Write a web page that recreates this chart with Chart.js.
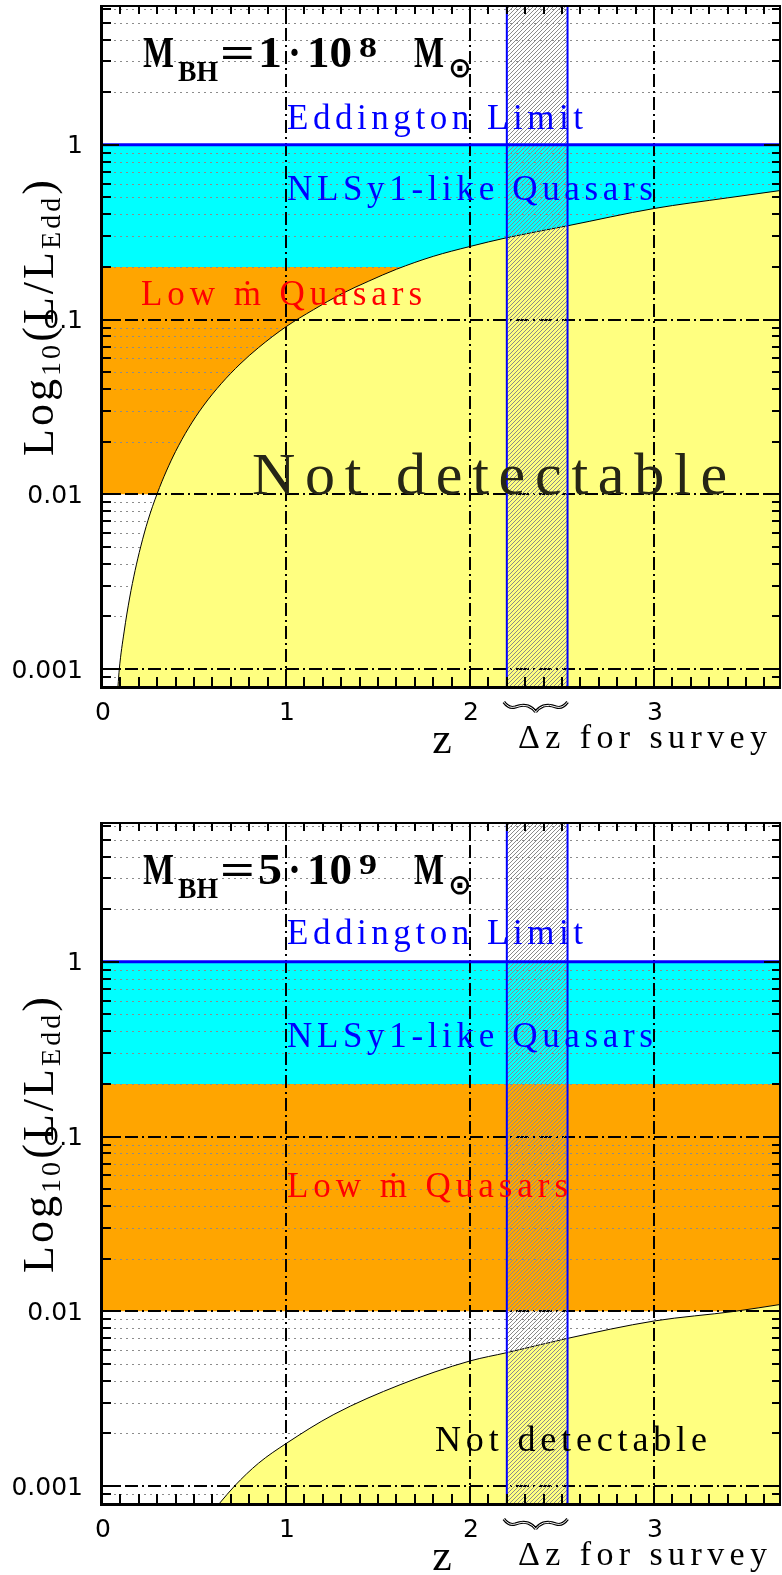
<!DOCTYPE html>
<html>
<head>
<meta charset="utf-8">
<script src="https://cdn.jsdelivr.net/npm/chart.js@4.4.1/dist/chart.umd.min.js"></script>
<style>
  html, body { margin: 0; padding: 0; background: #fff; }
  canvas { position: absolute; left: 0; }
</style>
</head>
<body>
<canvas id="panelTop" width="782" height="817" style="top:0"></canvas>
<canvas id="panelBottom" width="782" height="758" style="top:817px"></canvas>
<script>
// axis ranges shared by both panels
const zRange = [0, 3.69];
const lumRange = [0.0008, 6.31];

// class boundaries in L/L_Edd
const eddingtonLimit = 1;
const nlsy1Floor = 0.2;
const lowMdotFloor = 0.01;

// redshift window of the survey
const surveyWindow = [2.2, 2.53];

// detection limit for M_BH = 1e8 Msun
const zLimitLight = [0.087, 0.094, 0.12, 0.15, 0.18, 0.21, 0.25, 0.30, 0.35, 0.40, 0.47, 0.55, 0.65, 0.75, 0.85, 1.0, 1.15, 1.3, 1.45, 1.6, 1.8, 2.0, 2.2, 2.53, 3.0, 3.4, 3.7];
const lumLimitLight = [0.0008, 0.001, 0.00163, 0.00255, 0.00367, 0.0050, 0.0071, 0.0101, 0.0136, 0.0176, 0.0239, 0.0320, 0.0432, 0.0556, 0.069, 0.091, 0.114, 0.140, 0.166, 0.194, 0.230, 0.262, 0.294, 0.344, 0.432, 0.497, 0.55];

// detection limit for M_BH = 5e9 Msun
const zLimitHeavy = [0.64, 0.72, 0.85, 1.0, 1.26, 1.62, 2.0, 2.2, 2.53, 3.0, 3.44, 3.7];
const lumLimitHeavy = [0.0008, 0.001, 0.00135, 0.00175, 0.00257, 0.0038, 0.0052, 0.0058, 0.0070, 0.0088, 0.010, 0.011];

// tick labels
const zTicks = [0, 1, 2, 3];
const zTickLabels = ['0', '1', '2', '3'];
const lumTicks = [1, 0.1, 0.01, 0.001];
const lumTickLabels = ['1', '0.1', '0.01', '0.001'];

const SERIF = '"Liberation Serif", "DejaVu Serif", serif';
const SANS = '"DejaVu Sans", sans-serif';

function hatchPattern() {
  const c = document.createElement('canvas');
  c.width = 4; c.height = 4;
  const g = c.getContext('2d');
  g.strokeStyle = '#8a8a8a';
  g.lineWidth = 1;
  g.beginPath();
  g.moveTo(-1, 5); g.lineTo(5, -1);
  g.moveTo(-1, 1); g.lineTo(1, -1);
  g.moveTo(3, 5); g.lineTo(5, 3);
  g.stroke();
  return g.createPattern(c, 'repeat');
}

// m x 10^k values inside the y range
function minorLums(withDecades) {
  const out = [];
  for (let k = -4; k <= 0; k++) {
    for (let m = withDecades ? 1 : 2; m <= 9; m++) {
      const v = m * Math.pow(10, k);
      if (v > lumRange[0] && v < lumRange[1]) out.push({ v, major: m === 1 });
    }
  }
  return out;
}

// text spread with letter spacing so it spans x0..x1
function spaced(ctx, text, x0, x1, y, font, color) {
  ctx.save();
  ctx.font = font;
  ctx.textAlign = 'left';
  ctx.textBaseline = 'alphabetic';
  ctx.fillStyle = color;
  const w = ctx.measureText(text).width;
  const n = Array.from(text).length;
  const extra = n > 1 ? (x1 - x0 - w) / (n - 1) : 0;
  ctx.translate(x0, y);
  if (extra >= 0 && 'letterSpacing' in ctx) {
    ctx.letterSpacing = extra.toFixed(2) + 'px';
  } else {
    ctx.scale((x1 - x0) / w, 1);
  }
  ctx.fillText(text, 0, 0);
  ctx.restore();
}

// text squeezed/stretched to fill x0..x1
function fitted(ctx, text, x0, x1, y, font) {
  ctx.save();
  ctx.font = font;
  ctx.textAlign = 'left';
  ctx.textBaseline = 'alphabetic';
  ctx.fillStyle = '#000';
  const w = ctx.measureText(text).width;
  ctx.translate(x0, y);
  ctx.scale((x1 - x0) / w, 1);
  ctx.fillText(text, 0, 0);
  ctx.restore();
}

function massLabel(ctx, digit, exponent) {
  const big = 'bold 44px ' + SERIF;
  const small = 'bold 29px ' + SERIF;
  fitted(ctx, 'M', 143, 174, 67, big);
  fitted(ctx, 'BH', 178, 218, 81, small);
  fitted(ctx, '=', 220, 255, 67, big);
  fitted(ctx, digit, 258, 282, 67, big);
  fitted(ctx, '\u00b7', 288, 301, 67, big);
  fitted(ctx, '10', 307, 352, 67, big);
  fitted(ctx, exponent, 359, 377, 57, 'bold 30px ' + SERIF);
  fitted(ctx, 'M', 414, 444, 67, big);
  ctx.save();
  ctx.font = 'bold 28px ' + SANS;
  ctx.textBaseline = 'middle';
  ctx.textAlign = 'center';
  ctx.fillStyle = '#000';
  ctx.fillText('\u2299', 460, 70);
  ctx.restore();
}

function lumTitle(ctx, x, cy, len) {
  const parts = [['Log', 44, 0], ['10', 28, 7], ['(L/L', 44, 0], ['Edd', 28, 7], [')', 44, 0]];
  ctx.save();
  ctx.translate(x, cy);
  ctx.rotate(-Math.PI / 2);
  let total = 0, chars = 0;
  parts.forEach(p => {
    ctx.font = p[1] + 'px ' + SERIF;
    p.w = ctx.measureText(p[0]).width;
    total += p.w;
    chars += p[0].length;
  });
  const extra = Math.max(0, (len - total) / (chars - 1));
  let pos = -len / 2;
  ctx.fillStyle = '#000';
  ctx.textBaseline = 'alphabetic';
  ctx.textAlign = 'left';
  parts.forEach(p => {
    ctx.font = p[1] + 'px ' + SERIF;
    if ('letterSpacing' in ctx) ctx.letterSpacing = extra.toFixed(2) + 'px';
    ctx.fillText(p[0], pos, p[2]);
    pos += p.w + extra * p[0].length;
  });
  ctx.restore();
}

// wavy brace under the survey window
function brace(ctx, xa, xb, y0) {
  const w = xb - xa;
  const half = sgn => {
    const X = f => sgn > 0 ? xa + f * w : xb - f * w;
    ctx.moveTo(X(0), y0);
    ctx.quadraticCurveTo(X(0.08), y0 + 7, X(0.18), y0 + 5);
    ctx.quadraticCurveTo(X(0.29), y0 + 2, X(0.38), y0 + 4);
    ctx.quadraticCurveTo(X(0.46), y0 + 6, X(0.5), y0 + 10);
  };
  ctx.save();
  ctx.beginPath();
  half(1); half(-1);
  ctx.strokeStyle = '#000';
  ctx.lineWidth = 3;
  ctx.stroke();
  ctx.strokeStyle = '#fff';
  ctx.lineWidth = 1;
  ctx.stroke();
  ctx.restore();
}

function buildPanel(id, curveZ, curveLum, look) {
  const canvas = document.getElementById(id);
  const curve = curveZ.map((z, i) => ({ x: z, y: curveLum[i] }));
  const across = y => [{ x: zRange[0], y }, { x: zRange[1], y }];
  const upright = x => [{ x, y: lumRange[0] }, { x, y: lumRange[1] }];
  const none = 'rgba(0,0,0,0)';

  const overlay = {
    id: 'overlay',
    afterDatasetDraw(chart, args) {
      const ctx = chart.ctx, a = chart.chartArea;
      const xs = chart.scales.x, ys = chart.scales.y;
      if (args.index === 5) {
        // dotted minor grid, later covered by the yellow region
        ctx.save();
        ctx.strokeStyle = '#8c8c8c';
        ctx.lineWidth = 1;
        ctx.setLineDash([2, 4]);
        minorLums(false).forEach(t => {
          const py = Math.round(ys.getPixelForValue(t.v)) + 0.5;
          ctx.beginPath(); ctx.moveTo(a.left, py); ctx.lineTo(a.right, py); ctx.stroke();
        });
        ctx.restore();
      }
      if (args.index === 4) {
        // dash-dot major grid
        ctx.save();
        ctx.strokeStyle = '#000';
        ctx.lineWidth = 2;
        ctx.setLineDash([13, 4, 2, 4]);
        zTicks.slice(1).forEach(z => {
          const px = Math.round(xs.getPixelForValue(z));
          ctx.beginPath(); ctx.moveTo(px, a.top); ctx.lineTo(px, a.bottom); ctx.stroke();
        });
        lumTicks.forEach(v => {
          const py = Math.round(ys.getPixelForValue(v));
          ctx.beginPath(); ctx.moveTo(a.left, py); ctx.lineTo(a.right, py); ctx.stroke();
        });
        ctx.restore();
      }
    },
    afterDraw(chart) {
      const ctx = chart.ctx, a = chart.chartArea;
      const xs = chart.scales.x, ys = chart.scales.y;
      ctx.save();
      ctx.strokeStyle = '#000';
      ctx.lineWidth = 2;
      ctx.setLineDash([]);
      // inward ticks on all four sides
      for (let i = 0; i <= Math.floor(zRange[1] * 10); i++) {
        const px = Math.round(xs.getPixelForValue(i / 10));
        const len = i % 10 === 0 ? 17 : 9;
        ctx.beginPath();
        ctx.moveTo(px, a.bottom); ctx.lineTo(px, a.bottom - len);
        ctx.moveTo(px, a.top); ctx.lineTo(px, a.top + len);
        ctx.stroke();
      }
      minorLums(true).forEach(t => {
        const py = Math.round(ys.getPixelForValue(t.v));
        const len = t.major ? 17 : 9;
        ctx.beginPath();
        ctx.moveTo(a.left, py); ctx.lineTo(a.left + len, py);
        ctx.moveTo(a.right, py); ctx.lineTo(a.right - len, py);
        ctx.stroke();
      });
      // frame
      ctx.lineWidth = 3;
      ctx.beginPath();
      ctx.moveTo(a.left - 0.5, a.top); ctx.lineTo(a.left - 0.5, a.bottom + 1.5);
      ctx.lineTo(a.right, a.bottom + 1.5);
      ctx.stroke();
      ctx.lineWidth = 2;
      ctx.beginPath();
      ctx.moveTo(a.left, a.top + 1); ctx.lineTo(a.right, a.top + 1);
      ctx.moveTo(a.right - 1, a.top); ctx.lineTo(a.right - 1, a.bottom);
      ctx.stroke();

      // tick labels
      ctx.fillStyle = '#000';
      ctx.font = '25px ' + SANS;
      ctx.textAlign = 'center';
      ctx.textBaseline = 'alphabetic';
      zTicks.forEach((z, i) => ctx.fillText(zTickLabels[i], xs.getPixelForValue(z) + 1, a.bottom + 34));
      ctx.textAlign = 'right';
      ctx.textBaseline = 'middle';
      lumTicks.forEach((v, i) => ctx.fillText(lumTickLabels[i], 83, ys.getPixelForValue(v) + 2));
      ctx.restore();

      // axis titles
      lumTitle(ctx, 53, 318, 276);
      ctx.save();
      ctx.font = '44px ' + SERIF;
      ctx.fillStyle = '#000';
      ctx.textAlign = 'center';
      ctx.fillText('z', 442, a.bottom + 67);
      ctx.restore();
      spaced(ctx, '\u0394z for survey', 518, 767, a.bottom + 62, '34px ' + SERIF, '#000');
      brace(ctx, xs.getPixelForValue(surveyWindow[0]) - 3, xs.getPixelForValue(surveyWindow[1]), a.bottom + 16);

      // region labels
      massLabel(ctx, look.digit, look.exponent);
      spaced(ctx, 'Eddington Limit', 287, 583, look.eddY, '35px ' + SERIF, '#0000ff');
      spaced(ctx, 'NLSy1-like Quasars', 287, 653, look.nlsY, '35px ' + SERIF, '#0000ff');
      spaced(ctx, 'Low \u1e41 Quasars', look.low[0], look.low[1], look.low[2], '35px ' + SERIF, '#ff0000');
      const nd = look.hidden;
      spaced(ctx, 'Not detectable', nd[0], nd[1], nd[2], nd[3] + 'px ' + SERIF, nd[4]);
    }
  };

  return new Chart(canvas, {
    type: 'line',
    data: {
      datasets: [
        { data: across(eddingtonLimit), borderColor: '#0000ff', borderWidth: 3, fill: false },
        { data: upright(surveyWindow[0]), borderColor: '#0000ff', borderWidth: 2, fill: false },
        { data: upright(surveyWindow[1]), borderColor: '#0000ff', borderWidth: 2, fill: false },
        { data: [{ x: surveyWindow[0], y: lumRange[1] }, { x: surveyWindow[1], y: lumRange[1] }],
          borderColor: none, borderWidth: 1, fill: 'start', backgroundColor: hatchPattern() },
        { data: curve, borderColor: '#000', borderWidth: 1, fill: 'start', backgroundColor: '#ffff80',
          cubicInterpolationMode: 'monotone' },
        { data: across(nlsy1Floor), borderColor: none, borderWidth: 1,
          fill: { value: lowMdotFloor }, backgroundColor: '#ffa500' },
        { data: across(eddingtonLimit), borderColor: none, borderWidth: 1,
          fill: { value: nlsy1Floor }, backgroundColor: '#00ffff' }
      ]
    },
    options: {
      responsive: false,
      animation: false,
      devicePixelRatio: 1,
      events: [],
      layout: { padding: { left: 102, right: 1, top: 5, bottom: canvas.height - 686 } },
      elements: { point: { radius: 0 } },
      plugins: { legend: { display: false }, tooltip: { enabled: false } },
      scales: {
        x: { type: 'linear', min: zRange[0], max: zRange[1], bounds: 'data', display: false },
        y: { type: 'logarithmic', min: lumRange[0], max: lumRange[1], bounds: 'data', display: false }
      }
    },
    plugins: [overlay]
  });
}

buildPanel('panelTop', zLimitLight, lumLimitLight, {
  digit: '1', exponent: '8',
  eddY: 129, nlsY: 200,
  low: [141, 422, 305],
  hidden: [252, 727, 494, 60, '#262616']
});

buildPanel('panelBottom', zLimitHeavy, lumLimitHeavy, {
  digit: '5', exponent: '9',
  eddY: 127, nlsY: 230,
  low: [287, 568, 380],
  hidden: [435, 707, 634, 36, '#000']
});
</script>
</body>
</html>
